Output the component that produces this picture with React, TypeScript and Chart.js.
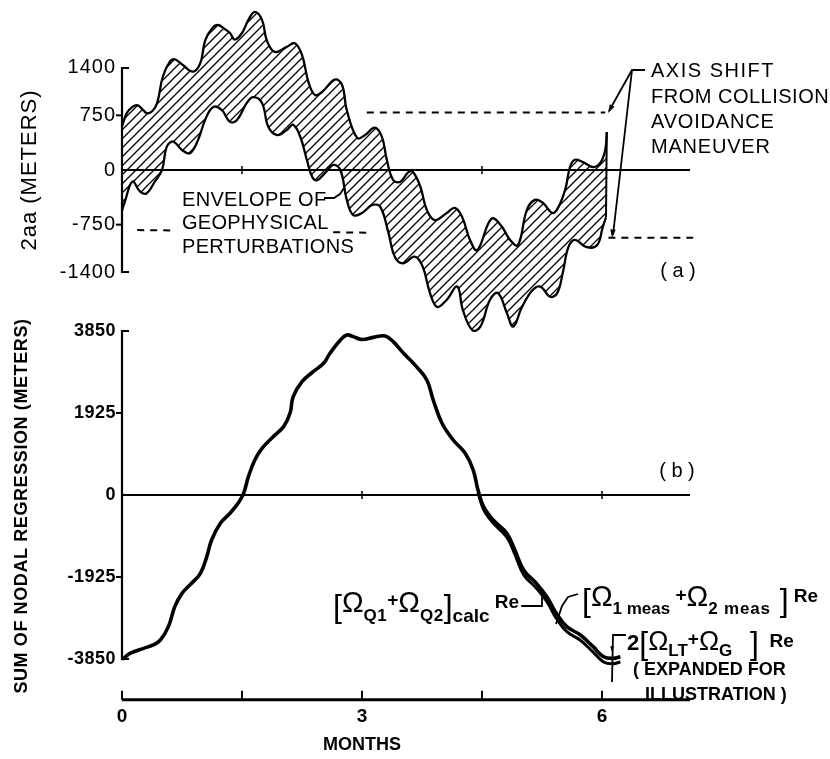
import React, { useEffect, useRef } from "react";
import { Chart, registerables } from "chart.js";

Chart.register(...registerables);

// ---------- DATA ----------
// (a) envelope of geophysical perturbations, 2aa (meters) vs months
const upperMonths = [0.00,0.06,0.13,0.19,0.25,0.31,0.38,0.44,0.51,0.60,0.66,0.76,0.89,0.98,1.04,1.13,1.20,1.29,1.35,1.41,1.50,1.58,1.66,1.75,1.81,1.91,2.06,2.16,2.25,2.33,2.41,2.50,2.66,2.75,2.81,2.94,3.04,3.16,3.25,3.31,3.39,3.48,3.58,3.64,3.73,3.81,3.91,4.06,4.16,4.25,4.35,4.44,4.58,4.64,4.75,4.85,4.95,5.06,5.16,5.26,5.38,5.45,5.54,5.60,5.66,5.76,5.89,5.98,6.04,6.06];
const upperValues = [600,780,865,890,840,780,810,920,1280,1490,1520,1440,1350,1470,1780,1950,1990,1930,1880,1790,1880,2060,2170,2060,1780,1620,1690,1740,1580,1210,1030,1070,1240,1170,820,440,480,580,450,140,-140,-160,-30,-30,-230,-550,-690,-590,-520,-640,-960,-1100,-730,-660,-780,-960,-1030,-550,-410,-450,-590,-520,-270,40,140,110,40,100,270,520];

const lowerMonths = [0.00,0.04,0.13,0.23,0.31,0.41,0.50,0.56,0.64,0.75,0.85,0.95,1.04,1.14,1.25,1.35,1.44,1.56,1.64,1.75,1.83,1.94,2.06,2.14,2.23,2.31,2.38,2.44,2.54,2.64,2.73,2.81,2.89,3.00,3.13,3.23,3.33,3.41,3.51,3.66,3.76,3.85,3.94,4.06,4.19,4.26,4.38,4.48,4.60,4.70,4.81,4.89,5.00,5.13,5.23,5.35,5.44,5.51,5.58,5.66,5.81,5.94,6.01,6.05];
const lowerValues = [-560,-420,-160,-300,-320,-160,0,320,390,275,230,410,690,865,820,660,690,920,1000,920,590,480,550,620,450,140,-100,-140,-40,70,0,-410,-620,-590,-480,-510,-860,-1190,-1280,-1190,-1330,-1690,-1880,-1780,-1600,-1920,-2200,-2150,-1780,-1690,-1960,-2150,-1880,-1650,-1600,-1740,-1690,-1410,-1060,-960,-1060,-1030,-780,-650];

const edgeMonths = [6.06, 6.05];
const edgeValues = [520, -650];

// axis shift (dashed) levels
const shiftUpperMonths = [3.06, 6.04];
const shiftUpperValues = [790, 790];
const shiftLowerMonths = [6.08, 7.14];
const shiftLowerValues = [-930, -930];
const preShiftMonths = [0.19, 0.63, 1.6, 2.64, 3.06];
const preShiftValues = [-825, -830, null, -855, -860];

// (b) sum of nodal regression (meters) vs months
const calcMonths = [0.00,0.02,0.10,0.27,0.39,0.48,0.58,0.66,0.75,0.87,0.98,1.06,1.12,1.23,1.35,1.45,1.52,1.58,1.66,1.75,1.89,2.02,2.10,2.14,2.25,2.39,2.52,2.60,2.73,2.81,2.89,3.00,3.14,3.29,3.39,3.52,3.68,3.81,3.89,4.00,4.14,4.29,4.39,4.45,4.52,4.64,4.81,4.91,5.02,5.18,5.31,5.43,5.56,5.73,5.89,6.02,6.14,6.23];
const calcValues = [-3850,-3835,-3717,-3600,-3521,-3404,-3091,-2621,-2309,-2074,-1839,-1448,-1056,-665,-430,-196,39,430,822,1096,1369,1604,1917,2309,2660,2895,3091,3326,3639,3756,3717,3650,3700,3733,3600,3326,3013,2700,2230,1683,1291,978,587,117,-274,-587,-900,-1291,-1761,-2074,-2387,-2778,-3091,-3287,-3561,-3796,-3835,-3796];

const measMonths = [4.45,4.52,4.64,4.81,4.91,5.02,5.18,5.31,5.43,5.56,5.73,5.89,6.02,6.14,6.23];
const measValues = [60,-340,-660,-990,-1390,-1870,-2190,-2500,-2900,-3210,-3410,-3690,-3920,-3960,-3920];

// ticks
const topTicks = [1400, 750, 0, -750, -1400];
const topTickLabels = ["1400", "750", "0", "-750", "-1400"];
const bottomTicks = [3850, 1925, 0, -1925, -3850];
const bottomTickLabels = ["3850", "1925", "0", "-1925", "-3850"];
const monthTicks = [0, 1.5, 3, 4.5, 6];
const monthTickLabels = ["0", "", "3", "", "6"];
const MONTH_AXIS_LEVEL = -4810; // yb value where the months axis sits
const MONTH_END = 7.1;

const F = '"Liberation Sans", Arial, Helvetica, sans-serif';

const pts = (xs: number[], ys: (number | null)[]) => xs.map((x, i) => ({ x, y: ys[i] }));

function seg(ctx: any, p: number[][], w: number) {
  ctx.lineWidth = w;
  ctx.beginPath();
  p.forEach(([px, py], i) => (i ? ctx.lineTo(px, py) : ctx.moveTo(px, py)));
  ctx.stroke();
}
function arrow(ctx: any, x1: number, y1: number, x2: number, y2: number, size = 8) {
  const a = Math.atan2(y2 - y1, x2 - x1);
  ctx.beginPath();
  ctx.moveTo(x2, y2);
  ctx.lineTo(x2 - size * Math.cos(a - 0.3), y2 - size * Math.sin(a - 0.3));
  ctx.lineTo(x2 - size * Math.cos(a + 0.3), y2 - size * Math.sin(a + 0.3));
  ctx.closePath();
  ctx.fill();
}
function text(ctx: any, s: string, x: number, y: number, font: string, align: CanvasTextAlign = "left", sp = 0) {
  ctx.font = font;
  ctx.textAlign = align;
  ctx.textBaseline = "middle";
  ctx.letterSpacing = sp + "px";
  ctx.fillText(s, x, y);
  ctx.letterSpacing = "0px";
}
function rich(ctx: any, x: number, y: number, parts: [string, string, number, number?][]) {
  let cx = x;
  for (const [t, f, dy, sp] of parts) {
    ctx.font = f;
    ctx.letterSpacing = (sp || 0) + "px";
    ctx.textAlign = "left";
    ctx.textBaseline = "alphabetic";
    ctx.fillText(t, cx, y + dy);
    cx += ctx.measureText(t).width;
  }
  ctx.letterSpacing = "0px";
  return cx;
}

const paperPlugin = {
  id: "paper",
  beforeDatasetsDraw(chart: any) {
    const { ctx } = chart;
    const sx = chart.scales.x, sa = chart.scales.ya, sb = chart.scales.yb;
    const X = (m: number) => sx.getPixelForValue(m);
    const A = (v: number) => sa.getPixelForValue(v);
    const B = (v: number) => sb.getPixelForValue(v);
    const X0 = X(0), XE = X(MONTH_END);
    ctx.save();
    ctx.strokeStyle = "#000";
    ctx.fillStyle = "#000";
    // top panel axis
    seg(ctx, [[X0 + 7, A(1400)], [X0, A(1400)], [X0, A(-1400)], [X0 + 7, A(-1400)]], 2.2);
    [750, -750].forEach((v) => seg(ctx, [[X0 - 6, A(v)], [X0, A(v)]], 2));
    seg(ctx, [[X0, A(0)], [XE, A(0)]], 2.2);
    [1.5, 4.5].forEach((m) => seg(ctx, [[X(m), A(0) - 4], [X(m), A(0) + 4]], 1.5));
    // bottom panel axis
    seg(ctx, [[X0 + 7, B(3850)], [X0, B(3850)], [X0, B(-3850)], [X0 + 7, B(-3850)]], 2.2);
    [1925, -1925].forEach((v) => seg(ctx, [[X0 - 6, B(v)], [X0, B(v)]], 2));
    seg(ctx, [[X0, B(0)], [XE, B(0)]], 2.2);
    [3, 6].forEach((m) => seg(ctx, [[X(m), B(0) - 4], [X(m), B(0) + 4]], 1.5));
    // months axis
    const yAx = B(MONTH_AXIS_LEVEL);
    seg(ctx, [[X0, yAx], [XE, yAx]], 3);
    monthTicks.forEach((m) => seg(ctx, [[X(m), yAx], [X(m), yAx - 9]], 2));
    ctx.restore();
  },
  afterDatasetsDraw(chart: any) {
    const { ctx } = chart;
    const sx = chart.scales.x, sa = chart.scales.ya, sb = chart.scales.yb;
    const X = (m: number) => sx.getPixelForValue(m);
    const A = (v: number) => sa.getPixelForValue(v);
    const B = (v: number) => sb.getPixelForValue(v);
    const X0 = X(0);
    ctx.save();
    ctx.fillStyle = "#000";
    ctx.strokeStyle = "#000";
    // tick labels
    topTicks.forEach((v, i) => text(ctx, topTickLabels[i], X0 - 6, A(v), `20px ${F}`, "right", 1));
    bottomTicks.forEach((v, i) => text(ctx, bottomTickLabels[i], X0 - 6, B(v), `bold 18px ${F}`, "right", 0.5));
    const yAx = B(MONTH_AXIS_LEVEL);
    monthTicks.forEach((m, i) => monthTickLabels[i] && text(ctx, monthTickLabels[i], X(m), yAx + 17, `bold 19px ${F}`, "center"));
    text(ctx, "MONTHS", X(3), yAx + 45, `bold 18px ${F}`, "center");
    // axis titles
    ctx.save();
    ctx.translate(30, A(0));
    ctx.rotate(-Math.PI / 2);
    text(ctx, "2aa (METERS)", 0, 0, `22px ${F}`, "center", 1);
    ctx.restore();
    ctx.save();
    ctx.translate(22, 506);
    ctx.rotate(-Math.PI / 2);
    text(ctx, "SUM OF NODAL REGRESSION (METERS)", 0, 0, `bold 18px ${F}`, "center", 0.6);
    ctx.restore();
    // panel tags
    text(ctx, "( a )", 678, 271, `20px ${F}`, "center");
    text(ctx, "( b )", 677, 471, `20px ${F}`, "center");
    // envelope annotation
    const f20 = `20px ${F}`;
    text(ctx, "ENVELOPE OF", 182, 200, f20, "left", 0.3);
    text(ctx, "GEOPHYSICAL", 182, 223, f20, "left", 0.3);
    text(ctx, "PERTURBATIONS", 182, 247, f20, "left", 0.3);
    seg(ctx, [[324, 198], [334, 198], [340, 194], [344, 188]], 1.8);
    // axis shift annotation
    text(ctx, "AXIS SHIFT", 651, 71, f20, "left", 1.5);
    text(ctx, "FROM COLLISION", 651, 97, f20, "left", 0.5);
    text(ctx, "AVOIDANCE", 651, 122, f20, "left", 0.8);
    text(ctx, "MANEUVER", 651, 147, f20, "left", 0.8);
    seg(ctx, [[645, 70], [632, 70], [609, 111]], 1.8);
    arrow(ctx, 632, 70, 608, 113, 9);
    seg(ctx, [[632, 70], [613, 235]], 1.8);
    arrow(ctx, 632, 70, 612, 238, 9);
    // calc label
    const om = `29px ${F}`;
    const br = `32px ${F}`;
    const sub = `bold 17px ${F}`;
    const e1 = rich(ctx, 333, 612, [
      ["[", br, 5],
      ["Ω", om, 0],
      ["Q1", sub, 9, 0.5],
      ["+", `bold 19px ${F}`, -6],
      ["Ω", om, 0],
      ["Q2", sub, 9, 0.5],
      ["]", br, 5],
      ["calc", `bold 19px ${F}`, 10],
      [" Re", `bold 19px ${F}`, -4],
    ]);
    seg(ctx, [[e1 + 2, 606], [542, 606], [542, 592]], 1.8);
    // meas label
    rich(ctx, 582, 606, [
      ["[", br, 5],
      ["Ω", om, 0],
      ["1 meas", sub, 8, 0],
      [" +", `bold 19px ${F}`, -5],
      ["Ω", om, 0],
      ["2 meas", sub, 8, 0.8],
      [" ]", br, 5],
      [" Re", `bold 19px ${F}`, -4],
    ]);
    seg(ctx, [[556, 624], [562, 606], [568, 597], [578, 594]], 1.8);
    // LT + G label
    rich(ctx, 627, 650, [
      ["2", `bold 22px ${F}`, 0],
      ["[", br, 4],
      ["Ω", `27px ${F}`, 0],
      ["LT", sub, 6],
      ["+", `bold 19px ${F}`, -5],
      ["Ω", `27px ${F}`, 0],
      ["G", sub, 6],
      ["  ]", br, 4],
      ["  Re", `bold 19px ${F}`, -3],
    ]);
    seg(ctx, [[626, 635], [613, 635], [612, 682]], 1.8);
    arrow(ctx, 612, 640, 612, 652, 6);
    text(ctx, "( EXPANDED FOR", 633, 670, `bold 18px ${F}`, "left");
    text(ctx, "ILLUSTRATION )", 645, 695, `bold 18px ${F}`, "left");
    ctx.restore();
  },
};

function makeHatch(): CanvasPattern | string {
  const s = 9;
  const c = document.createElement("canvas");
  c.width = s;
  c.height = s;
  const g = c.getContext("2d");
  if (!g) return "rgba(0,0,0,0.3)";
  g.strokeStyle = "#000";
  g.lineWidth = 1.3;
  g.beginPath();
  g.moveTo(0, s);
  g.lineTo(s, 0);
  g.moveTo(-s / 2, s / 2);
  g.lineTo(s / 2, -s / 2);
  g.moveTo(s / 2, s * 1.5);
  g.lineTo(s * 1.5, s / 2);
  g.stroke();
  return g.createPattern(c, "repeat") || "rgba(0,0,0,0.3)";
}

export default function App() {
  const ref = useRef<HTMLCanvasElement | null>(null);
  useEffect(() => {
    if (!ref.current) return;
    const hatch = makeHatch();
    const base = { pointRadius: 0, borderColor: "#000", tension: 0.4, fill: false as any, spanGaps: false };
    const chart = new Chart(ref.current, {
      type: "line",
      data: {
        datasets: [
          { ...base, label: "upper envelope", yAxisID: "ya", data: pts(upperMonths, upperValues), borderWidth: 2.3, fill: "+1", backgroundColor: hatch as any },
          { ...base, label: "lower envelope", yAxisID: "ya", data: pts(lowerMonths, lowerValues), borderWidth: 2.3 },
          { ...base, label: "edge", yAxisID: "ya", data: pts(edgeMonths, edgeValues), borderWidth: 2, tension: 0 },
          { ...base, label: "shift upper", yAxisID: "ya", data: pts(shiftUpperMonths, shiftUpperValues), borderWidth: 2, borderDash: [7, 6], tension: 0 },
          { ...base, label: "shift lower", yAxisID: "ya", data: pts(shiftLowerMonths, shiftLowerValues), borderWidth: 2, borderDash: [7, 6], tension: 0 },
          { ...base, label: "pre shift", yAxisID: "ya", data: pts(preShiftMonths, preShiftValues), borderWidth: 2, borderDash: [7, 6], tension: 0 },
          { ...base, label: "calc", yAxisID: "yb", data: pts(calcMonths, calcValues), borderWidth: 3.6 },
          { ...base, label: "meas", yAxisID: "yb", data: pts(measMonths, measValues), borderWidth: 3 },
        ],
      },
      options: {
        animation: false,
        responsive: false,
        devicePixelRatio: 1,
        layout: { padding: 0 },
        plugins: { legend: { display: false }, tooltip: { enabled: false }, title: { display: false } },
        scales: {
          x: { type: "linear", min: -122 / 80, max: (830 - 122) / 80, display: false },
          ya: { type: "linear", min: -8084, max: 2333, display: false },
          yb: { type: "linear", min: -6198, max: 11620, display: false },
        },
      },
      plugins: [paperPlugin],
    });
    return () => chart.destroy();
  }, []);
  return (
    <div style={{ position: "absolute", left: 0, top: 0, width: 830, height: 759, background: "#fff" }}>
      <canvas ref={ref} width={830} height={759} style={{ display: "block", width: 830, height: 759 }} />
    </div>
  );
}
